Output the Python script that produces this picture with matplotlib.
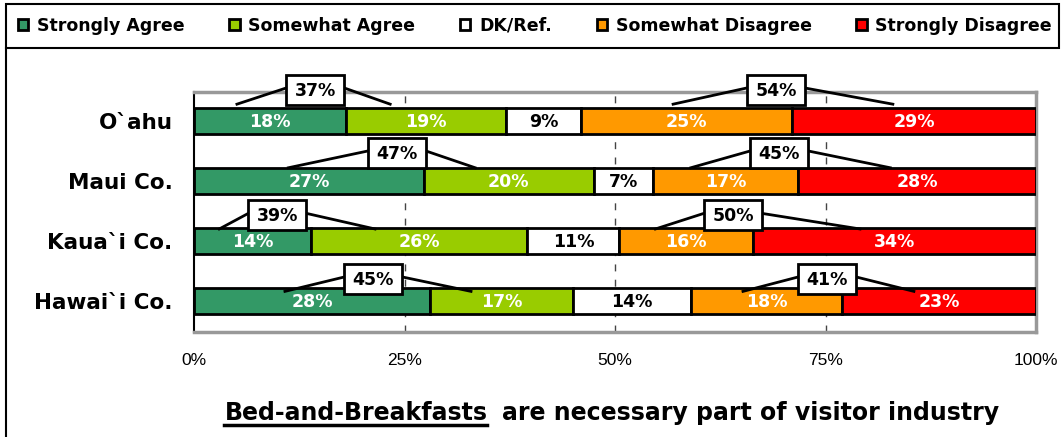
import matplotlib
matplotlib.use('Agg')
import matplotlib.pyplot as plt
from matplotlib.patches import Rectangle
from matplotlib.lines import Line2D
import numpy as np

# survey results, percent of respondents per island
regions = ['O`ahu', 'Maui Co.', 'Kaua`i Co.', 'Hawai`i Co.']
responses = ['Strongly Agree', 'Somewhat Agree', 'DK/Ref.', 'Somewhat Disagree', 'Strongly Disagree']
strongly_agree = [18, 27, 14, 28]
somewhat_agree = [19, 20, 26, 17]
dk_ref = [9, 7, 11, 14]
somewhat_disagree = [25, 17, 16, 18]
strongly_disagree = [29, 28, 34, 23]
agree_total = [37, 47, 39, 45]
disagree_total = [54, 45, 50, 41]
pct_ticks = [0, 25, 50, 75, 100]

colors = ['#339966', '#99CC00', '#FFFFFF', '#FF9900', '#FF0000']
label_colors = ['white', 'white', 'black', 'white', 'white']

# callout boxes: (box centre x, left leader end x, right leader end x) in % units
agree_callouts = [(14.4, 5.1, 23.3), (24.1, 11.2, 33.4), (9.9, 3.0, 21.5), (21.3, 10.8, 32.9)]
disagree_callouts = [(69.1, 56.9, 83.0), (69.5, 59.0, 82.7), (64.0, 54.8, 79.1), (75.2, 65.2, 85.5)]
box_dy = [-0.52, -0.47, -0.43, -0.37]
leader_dy = [-0.28, -0.22, -0.2, -0.16]

BOLD = dict(family=['DejaVu Sans'], weight='bold')
W, H = 1061, 437


def px_x(x):
    return x / W


def px_y(y):
    return 1 - y / H


def draw_bars(ax):
    series = np.array([strongly_agree, somewhat_agree, dk_ref, somewhat_disagree, strongly_disagree], dtype=float)
    shares = series / series.sum(axis=0) * 100
    y = np.arange(len(regions))
    left = np.zeros(len(regions))
    handles = []
    for vals, share, name, c, tc in zip(series, shares, responses, colors, label_colors):
        bars = ax.barh(y, share, left=left, height=0.43, color=c, edgecolor='black', linewidth=2, label=name, zorder=3)
        handles.append(bars)
        for yi, l, s, v in zip(y, left, share, vals):
            ax.text(l + s / 2, yi + 0.02, f'{v:.0f}%', ha='center', va='center', color=tc, fontsize=12.5, zorder=4, **BOLD)
        left += share
    return handles


def draw_callouts(ax):
    for totals, layout in ((agree_total, agree_callouts), (disagree_total, disagree_callouts)):
        for i, (tot, (bx, lx, rx)) in enumerate(zip(totals, layout)):
            by = i + box_dy[i]
            ey = i + leader_dy[i]
            bw, bh = 6.9, 0.5
            ax.add_line(Line2D([lx, bx - bw / 2], [ey, by - 0.03], color='black', lw=2, zorder=5, clip_on=False))
            ax.add_line(Line2D([bx + bw / 2, rx], [by - 0.03, ey], color='black', lw=2, zorder=5, clip_on=False))
            ax.add_patch(Rectangle((bx - bw / 2, by - bh / 2), bw, bh, facecolor='white', edgecolor='black', lw=2, zorder=6, clip_on=False))
            ax.text(bx, by + 0.02, f'{tot}%', ha='center', va='center', fontsize=12.5, zorder=7, **BOLD)


def main():
    fig = plt.figure(figsize=(W / 100, H / 100), dpi=100)
    ax = fig.add_axes([px_x(194), px_y(332), 842 / W, 240 / H])

    handles = draw_bars(ax)
    draw_callouts(ax)

    ax.set_xlim(0, 100)
    ax.set_ylim(3.517, -0.483)
    ax.set_xticks(pct_ticks)
    ax.set_xticklabels([f'{t}%' for t in pct_ticks], family=['Liberation Sans', 'DejaVu Sans'], fontsize=12.5)
    ax.set_yticks(range(len(regions)))
    ax.set_yticklabels(regions, fontsize=15.5, **BOLD)
    ax.tick_params(length=0)
    ax.tick_params(axis='x', pad=15)
    ax.tick_params(axis='y', pad=15.5)
    for t in pct_ticks[1:-1]:
        ax.axvline(t, color='#444444', lw=1, ls=(0, (5, 6)), zorder=1)
    for side in ('top', 'right', 'bottom'):
        ax.spines[side].set_color('#999999')
        ax.spines[side].set_linewidth(2.5)
    ax.spines['left'].set_color('black')
    ax.spines['left'].set_linewidth(1.5)

    # legend strip and outer frame
    fig.add_artist(Rectangle((px_x(6), px_y(48)), 1053 / W, 44 / H, transform=fig.transFigure,
                             facecolor='none', edgecolor='black', lw=1.5))
    fig.add_artist(Line2D([px_x(6), px_x(6)], [px_y(48), 0], transform=fig.transFigure, color='black', lw=1.5))
    fig.legend(handles=handles, labels=responses, loc='center', ncol=5, mode='expand', frameon=False,
               bbox_to_anchor=(px_x(18), px_y(40), 1034 / W, 28 / H), borderaxespad=0, borderpad=0,
               handlelength=0.6, handleheight=0.6, handletextpad=0.5, prop=dict(size=12.5, **BOLD))

    # bottom caption with the underlined subject
    renderer = fig.canvas.get_renderer()
    t1 = fig.text(0, px_y(420), 'Bed-and-Breakfasts', fontsize=17, va='baseline', ha='right', **BOLD)
    t2 = fig.text(0, px_y(420), 'are necessary part of visitor industry', fontsize=17, va='baseline', ha='left', **BOLD)
    w1 = t1.get_window_extent(renderer).width
    w2 = t2.get_window_extent(renderer).width
    gap = 15
    start = 612 - (w1 + gap + w2) / 2
    t1.set_x(px_x(start + w1))
    t2.set_x(px_x(start + w1 + gap))
    fig.add_artist(Line2D([px_x(start), px_x(start + w1)], [px_y(425), px_y(425)], transform=fig.transFigure,
                          color='black', lw=2.5))

    fig.savefig('out.png', dpi=100)


if __name__ == "__main__":
    main()
